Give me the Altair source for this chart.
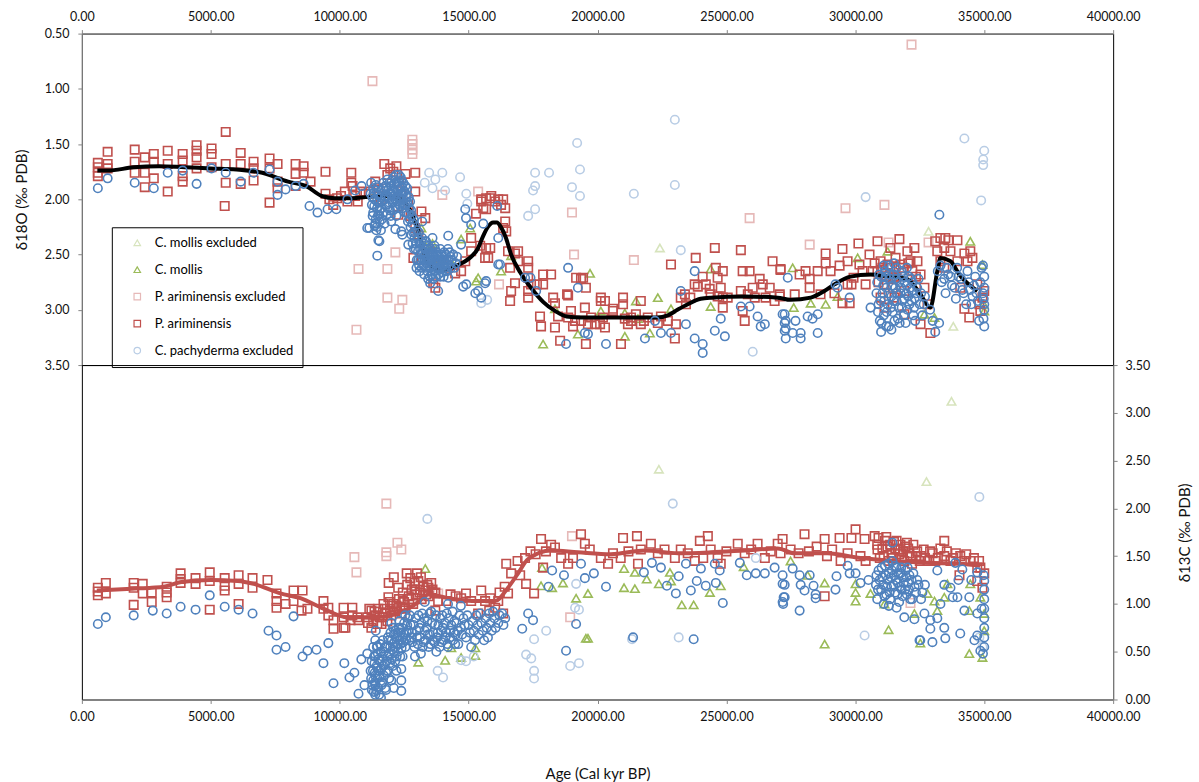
import altair as alt
import pandas as pd

SERIES = ["C. mollis excluded", "C. mollis", "P. ariminensis excluded",
          "P. ariminensis", "C. pachyderma excluded", "C. pachyderma"]
COLORS = ["#d7e4bd", "#9bbb59", "#e6b9b8", "#c0504d", "#b9cde5", "#4f81bd"]
SHAPES = ["triangle-up", "triangle-up", "square", "square", "circle", "circle"]

AGE_TICKS = [0, 5000, 10000, 15000, 20000, 25000, 30000, 35000, 40000]
D18O_TICKS = [0.5, 1.0, 1.5, 2.0, 2.5, 3.0, 3.5]
D13C_TICKS = [0.0, 0.5, 1.0, 1.5, 2.0, 2.5, 3.0, 3.5]

# ---------------- delta 18O (age, value) ----------------
d18o_mollis_excl = [(22420, 2.44), (32840, 2.29), (33800, 3.15)]

d18o_mollis = [
    (13170, 2.26), (13050, 2.33), (13320, 2.42), (13600, 2.40), (13900, 2.55), (14400, 2.60),
    (14710, 2.36), (15060, 2.26), (15290, 2.74), (15370, 2.71), (16260, 2.65), (16650, 2.51),
    (17890, 3.31), (18350, 2.99), (19240, 3.22), (19710, 2.67), (20130, 3.01), (21060, 3.24),
    (21060, 3.03), (21490, 2.92), (21570, 3.08), (22030, 3.21), (22340, 2.89), (22850, 2.99),
    (24390, 2.63), (24390, 2.97), (27570, 2.62), (27610, 2.98), (28270, 2.94), (28850, 2.95),
    (29310, 2.88), (30090, 2.53), (31250, 2.47), (32680, 3.04), (33070, 3.07), (34460, 2.38),
    (34930, 2.59), (35000, 3.01), (34980, 2.95)]

d18o_arim_excl = [
    (11270, 0.93), (32180, 0.60), (29620, 2.08), (31130, 2.05), (28230, 2.41), (31290, 2.39),
    (32840, 2.39), (12820, 1.46), (12820, 1.50), (12820, 1.55), (12820, 1.59), (12160, 2.48),
    (10730, 2.63), (11850, 2.63), (11850, 2.89), (12430, 2.91), (12310, 2.99), (10650, 3.18),
    (13980, 1.96), (15370, 1.93), (19010, 2.12), (19090, 2.50), (21410, 2.55), (16180, 2.77),
    (25900, 2.17)]

d18o_arim = [
    (620, 1.67), (620, 1.71), (620, 1.76), (620, 1.79), (1000, 1.57), (1000, 1.68), (1000, 1.72),
    (2050, 1.55), (2050, 1.66), (2050, 1.76), (2440, 1.62), (2440, 1.76), (2440, 1.89),
    (2790, 1.59), (2790, 1.66), (2790, 1.81), (3330, 1.56), (3330, 1.68), (3330, 1.93),
    (3910, 1.59), (3910, 1.65), (3910, 1.79), (3910, 1.84), (4450, 1.51), (4450, 1.56),
    (4450, 1.62), (4450, 1.72), (5030, 1.54), (5030, 1.59), (5030, 1.71), (5580, 1.39),
    (5580, 1.68), (5580, 1.85), (5540, 2.06), (6160, 1.58), (6160, 1.68), (6160, 1.86),
    (6660, 1.66), (6660, 1.72), (6660, 1.83), (7280, 1.63), (7280, 1.72), (7280, 2.03),
    (7590, 1.68), (7590, 1.84), (7590, 1.90), (8290, 1.68), (8290, 1.77), (8290, 1.88),
    (8600, 1.70), (8600, 1.76), (8870, 1.84), (9450, 1.75), (9450, 1.95), (9600, 2.00),
    (9750, 2.05), (9900, 1.99), (10050, 1.97), (10200, 1.93), (10300, 2.02), (10450, 1.76),
    (10450, 1.85), (10500, 1.88), (10600, 1.97), (10700, 2.02), (10800, 1.93), (11000, 1.95),
    (11190, 1.93), (11380, 1.84), (11500, 1.90), (11600, 2.00), (11730, 1.68), (11850, 1.78),
    (11960, 1.72), (12080, 1.75), (12200, 1.70), (12300, 1.85), (12400, 1.95), (12550, 1.77),
    (12650, 2.05), (12750, 2.15), (12930, 1.76), (12930, 1.93), (12930, 2.26), (12860, 2.53),
    (13050, 2.32), (13170, 2.11), (13320, 2.17), (12270, 2.14), (13450, 2.45), (13630, 2.76),
    (13710, 2.80), (13800, 2.60), (14000, 2.55), (14200, 2.62), (14480, 2.67), (14710, 2.65),
    (14870, 2.56), (15100, 2.35), (15450, 2.42), (15490, 2.02), (15490, 2.00), (15570, 2.08),
    (15680, 1.99), (15680, 2.09), (15840, 1.99), (15880, 1.97), (16030, 2.02), (16150, 2.00),
    (16260, 2.05), (16340, 2.00), (16420, 2.08), (16420, 2.20), (16340, 2.26), (15290, 2.13),
    (15840, 2.44), (15640, 2.53), (15760, 2.53), (15680, 2.44), (15100, 2.47), (16460, 2.29),
    (16530, 2.47), (16800, 2.49), (16920, 2.47), (16610, 2.62), (16920, 2.56), (17310, 2.56),
    (17310, 2.62), (17310, 2.71), (17420, 2.77), (16800, 2.76), (16650, 2.83), (16610, 2.92),
    (17310, 2.83), (17310, 2.89), (17890, 2.68), (18200, 2.68), (17890, 2.77), (17650, 2.77),
    (18280, 2.89), (18350, 2.94), (18820, 2.86), (19170, 2.71), (19440, 2.71), (18470, 3.06),
    (17810, 3.15), (17770, 3.06), (18350, 3.16), (18550, 3.28), (18970, 3.01), (19130, 3.10),
    (18860, 2.87), (18860, 3.07), (19050, 3.15), (19360, 3.10), (19510, 2.98), (19360, 2.72),
    (19550, 2.80), (19630, 3.13), (19550, 3.31), (19750, 3.07), (19900, 3.13), (20100, 3.13),
    (20130, 2.89), (20130, 2.92), (20210, 3.07), (20290, 3.16), (20290, 2.92), (20600, 2.99),
    (20600, 3.01), (20910, 3.31), (20990, 2.89), (20990, 2.95), (21060, 3.08), (21180, 3.13),
    (21300, 3.07), (21300, 3.10), (21490, 3.04), (21680, 2.92), (21680, 3.13), (21800, 3.10),
    (21950, 3.07), (22340, 3.12), (22460, 3.06), (22730, 3.10), (22850, 2.59), (23000, 3.26),
    (23040, 3.13), (23230, 2.89), (23390, 2.86), (23430, 2.95), (23600, 2.89), (23770, 2.77),
    (23890, 2.79), (23810, 2.53), (24080, 2.70), (24200, 2.77), (24390, 2.86), (24350, 2.81),
    (24550, 2.44), (24590, 2.62), (24660, 2.71), (24860, 2.65), (24780, 2.80), (24860, 2.89),
    (24860, 2.98), (24660, 2.88), (25050, 2.89), (25560, 2.46), (25630, 2.65), (25900, 2.65),
    (25560, 2.83), (25830, 2.86), (26020, 2.80), (26100, 2.89), (26290, 2.72), (26410, 2.77),
    (26520, 2.89), (26680, 2.80), (26870, 2.92), (26790, 2.56), (27100, 2.63), (27070, 2.86),
    (25630, 3.01), (25710, 3.10), (27100, 2.64), (27070, 2.88), (27650, 2.86), (27840, 2.68),
    (28070, 2.65), (28230, 2.72), (28230, 2.80), (28540, 2.65), (28650, 2.86), (28850, 2.49),
    (28850, 2.58), (29040, 2.65), (29190, 2.85), (29390, 2.60), (29500, 2.45), (29500, 2.94),
    (29700, 2.56), (29780, 2.94), (29700, 2.77), (29850, 2.77), (29930, 2.71), (30160, 2.59),
    (30120, 2.40), (30280, 2.65), (30400, 2.77), (30550, 2.50), (30670, 2.65), (30860, 2.38),
    (30860, 2.65), (30980, 2.56), (30980, 2.89), (31130, 2.77), (31250, 2.59), (31130, 2.98),
    (31360, 2.44), (31520, 2.71), (31520, 2.89), (31560, 2.53), (31710, 2.36), (31750, 2.59),
    (31900, 2.83), (31900, 3.04), (32020, 2.47), (32140, 2.56), (32210, 2.65), (32290, 2.44),
    (32410, 2.56), (32530, 2.68), (32530, 3.13), (32910, 3.21), (33100, 2.38), (33300, 2.35),
    (33490, 2.35), (33610, 2.37), (33450, 2.44), (33690, 2.47), (33180, 2.47), (33300, 2.56),
    (33960, 2.37), (33960, 2.56), (34230, 2.49), (34460, 2.47), (34350, 2.56), (34540, 2.53),
    (33450, 2.62), (34070, 2.80), (34230, 2.99), (34420, 3.07), (34730, 2.77), (34810, 2.95),
    (34930, 2.89), (34850, 3.01), (35000, 2.83), (32680, 2.80), (32800, 2.95),
    (30900, 2.75), (31050, 2.62), (31200, 2.70), (31350, 2.62), (31450, 2.80), (31600, 2.70),
    (31850, 2.62), (32050, 2.58), (32350, 2.70), (30750, 2.58)]

d18o_pachy_excl = [
    (23000, 1.28), (19210, 1.49), (19320, 1.73), (19010, 1.89), (19320, 1.97), (23000, 1.87),
    (21410, 1.95), (17580, 1.76), (18120, 1.76), (17580, 1.88), (17500, 1.92), (17580, 2.09),
    (17310, 2.15), (23230, 2.46), (26020, 3.38), (15490, 2.94), (15720, 2.91), (13470, 1.76),
    (13980, 1.76), (13710, 1.82), (14670, 1.80), (14090, 1.92), (14910, 1.95), (13600, 1.90),
    (14950, 2.04), (34230, 1.45), (35000, 1.56), (34960, 1.64), (34960, 1.69), (34880, 2.01),
    (30400, 1.98), (13300, 1.85)]

d18o_pachy = [
    (620, 1.90), (1000, 1.81), (2050, 1.85), (2790, 1.90), (3330, 1.76), (3910, 1.74),
    (4450, 1.86), (5030, 1.72), (5580, 1.76), (6160, 1.84), (6660, 1.76), (7280, 1.73),
    (7590, 1.84), (7590, 1.96), (7900, 1.91), (8290, 1.88), (8600, 1.86), (8830, 2.06),
    (9140, 2.12), (9530, 2.09), (9870, 2.09), (10300, 2.00), (10600, 1.92), (10850, 1.88),
    (11070, 2.26), (11460, 2.51), (11540, 2.38), (12160, 2.27), (12430, 2.32), (11150, 2.26),
    (11500, 2.37),
    (14210, 2.33), (14870, 2.09), (14900, 2.17), (15100, 2.23), (15570, 2.22), (16110, 2.06),
    (16150, 2.35), (16220, 2.59), (15640, 2.76), (15260, 2.85), (14790, 2.79), (14710, 2.41),
    (14910, 2.77), (15370, 2.83), (15490, 2.89), (15680, 2.74), (16150, 2.59), (17190, 2.71),
    (17400, 2.71), (17620, 2.83), (18860, 2.62), (19240, 2.80), (19630, 3.22), (18780, 3.31),
    (20330, 3.31), (19510, 3.21), (21840, 3.26), (22230, 3.10), (22460, 3.21), (22850, 3.21),
    (23230, 2.83), (23430, 3.13), (23770, 2.65), (23770, 3.26), (24080, 3.31), (24080, 3.39),
    (24550, 3.19), (24780, 3.08), (24940, 3.24), (25560, 2.97), (25900, 2.97), (26210, 3.06),
    (26330, 3.15), (26490, 3.13), (27180, 3.04), (27260, 3.12), (27300, 3.17),
    (27260, 3.04), (27300, 3.10), (27260, 3.19), (27300, 3.26), (27570, 3.21), (27680, 3.10),
    (27880, 3.21), (27880, 3.26), (28150, 3.06), (28340, 3.08), (28540, 3.04), (28540, 3.21),
    (27380, 2.71), (29310, 2.80), (29780, 2.89), (30590, 2.98), (29230, 2.77)]

# dense run of C. pachyderma around the deglaciation (11-14.5 ka)
d18o_pachy_deglacial = [
    (11200, 1.95), (11250, 2.05), (11300, 1.90), (11300, 2.12), (11350, 2.00), (11400, 1.87),
    (11400, 2.18), (11450, 2.08), (11450, 2.25), (11500, 1.96), (11550, 2.10), (11550, 2.20),
    (11600, 1.92), (11650, 2.02), (11700, 1.85), (11700, 2.12), (11750, 1.97), (11800, 1.90),
    (11800, 2.05), (11850, 1.82), (11900, 1.98), (11950, 2.10), (12000, 1.88), (12000, 1.95),
    (12050, 2.03), (12100, 1.80), (12100, 1.92), (12150, 2.00), (12200, 1.85), (12250, 1.95),
    (12250, 2.08), (12300, 1.78), (12350, 1.90), (12400, 2.00), (12400, 1.83), (12450, 1.94),
    (12500, 2.05), (12550, 1.88), (12600, 1.98), (12600, 2.12), (12650, 2.20), (12700, 2.08),
    (12750, 2.25), (12800, 2.15), (12850, 2.30), (11420, 2.28), (11480, 2.15), (11380, 2.22),
    (11600, 2.28), (12000, 2.20), (12200, 2.15),
    (11220, 1.85), (11260, 1.98), (11280, 2.15), (11320, 1.94), (11340, 2.06), (11360, 2.24),
    (11420, 1.92), (11440, 2.02), (11470, 1.89), (11520, 2.03), (11530, 2.14), (11580, 1.98),
    (11620, 2.08), (11640, 2.18), (11680, 1.90), (11720, 2.00), (11740, 2.22), (11770, 1.88),
    (11820, 1.97), (11830, 2.14), (11870, 1.92), (11880, 2.07), (11920, 1.85), (11930, 2.03),
    (11970, 1.95), (11980, 2.15), (12020, 1.83), (12030, 2.00), (12060, 1.92), (12070, 2.10),
    (12120, 1.86), (12130, 1.97), (12160, 2.07), (12180, 1.78), (12220, 1.92), (12230, 2.02),
    (12270, 1.84), (12280, 1.99), (12320, 1.88), (12330, 2.05), (12370, 1.80), (12380, 1.96),
    (12420, 1.89), (12430, 2.08), (12470, 1.85), (12480, 2.00), (12520, 1.93), (12530, 2.12),
    (12570, 1.96), (12580, 2.05), (12620, 1.90), (12630, 2.03), (12670, 2.13), (12680, 1.98),
    (12720, 2.18), (12730, 2.02), (12770, 2.10), (12780, 2.32), (12820, 2.22), (12830, 2.40),
    (12870, 2.18), (12880, 2.45),
    (12900, 2.35), (12950, 2.45), (13000, 2.28), (13050, 2.55), (13100, 2.40), (13150, 2.50),
    (13200, 2.35), (13250, 2.60), (13300, 2.45), (13300, 2.55), (13350, 2.38), (13400, 2.50),
    (13400, 2.65), (13450, 2.42), (13500, 2.55), (13500, 2.70), (13550, 2.48), (13600, 2.60),
    (13650, 2.52), (13700, 2.45), (13700, 2.65), (13750, 2.58), (13800, 2.50), (13850, 2.62),
    (13900, 2.45), (13900, 2.70), (13950, 2.55), (14000, 2.60), (14050, 2.48), (14100, 2.65),
    (14150, 2.55), (14200, 2.45), (14250, 2.60), (14300, 2.52), (13200, 2.20), (13100, 2.65),
    (12990, 2.55), (14400, 2.50), (14500, 2.58), (13600, 2.35), (13820, 2.83), (14210, 2.71),
    (13510, 2.76), (12660, 2.41), (12390, 2.29), (13320, 2.38),
    (12920, 2.30), (12960, 2.40), (12980, 2.62), (13020, 2.35), (13040, 2.47), (13070, 2.30),
    (13080, 2.60), (13120, 2.45), (13130, 2.55), (13170, 2.38), (13180, 2.62), (13220, 2.48),
    (13230, 2.55), (13270, 2.40), (13280, 2.68), (13320, 2.50), (13340, 2.62), (13370, 2.45),
    (13380, 2.58), (13420, 2.55), (13430, 2.72), (13470, 2.60), (13480, 2.48), (13520, 2.62),
    (13530, 2.45), (13570, 2.55), (13580, 2.68), (13620, 2.50), (13630, 2.72), (13670, 2.58),
    (13680, 2.42), (13720, 2.55), (13730, 2.70), (13770, 2.48), (13780, 2.62), (13820, 2.55),
    (13830, 2.68), (13870, 2.52), (13880, 2.58), (13920, 2.62), (13930, 2.50), (13970, 2.66),
    (13980, 2.52), (14020, 2.58), (14030, 2.70), (14070, 2.55), (14080, 2.62), (14120, 2.50),
    (14130, 2.58), (14170, 2.65), (14220, 2.55), (14270, 2.48), (14320, 2.62), (14350, 2.55),
    (14450, 2.62), (14550, 2.52)]

# dense run of C. pachyderma in the oldest part of the core (30.8-35 ka)
d18o_pachy_glacial = [
    (30850, 2.75), (30900, 2.95), (30950, 3.10), (31000, 2.70), (31050, 2.85), (31100, 3.05),
    (31150, 2.65), (31200, 2.80), (31250, 2.95), (31300, 3.15), (31350, 2.72), (31400, 2.88),
    (31450, 3.02), (31500, 2.68), (31550, 2.80), (31600, 2.92), (31650, 3.08), (31700, 2.75),
    (31750, 2.85), (31800, 2.98), (31850, 2.70), (31900, 2.90), (31950, 3.12), (32000, 2.78),
    (32050, 2.88), (32100, 2.95), (32150, 2.72), (32200, 2.83), (32250, 3.05), (32300, 2.90),
    (32400, 2.80), (32500, 2.95), (32600, 3.05), (32700, 2.88), (31200, 3.15), (31400, 3.18),
    (31000, 3.20), (31600, 2.62), (31300, 2.60), (32900, 3.00), (33000, 3.10),
    (30820, 2.85), (30880, 3.02), (30920, 2.68), (30980, 2.92), (31020, 3.12), (31080, 2.78),
    (31120, 2.92), (31180, 2.70), (31220, 3.02), (31280, 2.85), (31320, 2.68), (31380, 2.98),
    (31420, 2.78), (31480, 2.92), (31520, 3.10), (31580, 2.72), (31620, 2.85), (31680, 2.98),
    (31720, 3.12), (31780, 2.80), (31820, 2.92), (31880, 3.05), (31920, 2.75), (31980, 2.85),
    (32020, 3.00), (32080, 2.70), (32120, 2.80), (32180, 2.92), (32220, 2.75), (32280, 2.98),
    (32320, 3.10), (32380, 2.85), (32450, 2.72), (32550, 2.85), (32650, 2.95), (31100, 2.60),
    (31500, 2.58), (31800, 2.65), (32000, 2.62),
    (33260, 2.14), (33200, 2.65), (33350, 2.75), (33500, 2.85), (33600, 2.68), (33750, 2.78),
    (33900, 2.90), (34000, 2.70), (34150, 2.82), (34300, 2.95), (34400, 2.75), (34550, 2.88),
    (34650, 2.70), (34750, 2.92), (34900, 2.62), (35000, 2.70), (35000, 2.80), (34980, 2.90),
    (35000, 3.00), (34970, 3.08), (35000, 3.15), (34950, 2.60), (33100, 3.20), (33250, 3.12),
    (33300, 2.60), (33450, 2.72), (33550, 2.62), (33700, 2.70), (33850, 2.80), (33950, 2.62),
    (34100, 2.72), (34200, 2.85), (34350, 2.65), (34450, 2.82), (34600, 2.78), (34700, 2.85),
    (34850, 2.75), (34950, 2.85), (35000, 2.95), (34800, 3.10), (34500, 2.95)]

d18o_trend = [
    (600, 1.74), (1000, 1.74), (2000, 1.71), (3000, 1.70), (4000, 1.71), (5000, 1.72),
    (6000, 1.73), (7000, 1.76), (8000, 1.84), (8700, 1.88), (9300, 1.97), (9800, 1.99),
    (10500, 1.99), (11000, 1.98), (11500, 1.97), (12000, 1.97), (12500, 2.02), (13000, 2.25),
    (13440, 2.59), (13900, 2.64), (14330, 2.62), (14800, 2.57), (15100, 2.52), (15350, 2.45),
    (15550, 2.34), (15750, 2.25), (15950, 2.21), (16100, 2.21), (16250, 2.25), (16450, 2.35),
    (16650, 2.50), (17000, 2.66), (17420, 2.80), (17900, 2.93), (18350, 3.01), (18800, 3.06),
    (19360, 3.07), (19900, 3.07), (21450, 3.07), (22300, 3.07), (22730, 3.05), (23100, 3.00),
    (23500, 2.95), (24000, 2.90), (24390, 2.89), (25710, 2.88), (26990, 2.89), (27490, 2.91),
    (28270, 2.89), (28800, 2.83), (29190, 2.77), (29810, 2.70), (30590, 2.68), (31300, 2.70),
    (32000, 2.72), (32500, 2.85), (32910, 2.98), (33180, 2.65), (33300, 2.53), (33690, 2.56),
    (34030, 2.68), (34730, 2.83)]

# ---------------- delta 13C (age, value) ----------------
d13c_mollis_excl = [(22380, 2.41), (33730, 3.12), (32760, 2.28)]

d13c_mollis = [
    (27490, 1.45), (28150, 1.30), (28810, 1.22), (28810, 0.58), (30010, 1.21), (30010, 1.12),
    (30010, 1.03), (30590, 1.11), (31130, 1.00), (31290, 0.73), (32290, 0.90), (32520, 0.59),
    (32800, 1.11), (33070, 1.03), (33180, 0.93), (33450, 1.07), (33570, 1.21), (34420, 0.93),
    (34420, 0.48), (34930, 0.44), (35000, 0.90), (35000, 0.72), (34850, 1.07), (34460, 1.21),
    (17810, 1.19), (18240, 1.17), (18660, 1.22), (17850, 1.38), (19630, 1.11), (19170, 1.06),
    (19630, 0.64), (21030, 1.17), (21450, 1.16), (21030, 1.37), (21450, 1.33), (21910, 1.26),
    (22380, 1.21), (22810, 1.33), (22850, 1.24), (23270, 0.99), (23730, 0.99), (24360, 1.12),
    (24780, 1.19), (25670, 1.39), (13320, 1.37), (14090, 0.41), (14710, 0.44), (15260, 0.46),
    (14330, 0.54), (15260, 0.54), (13050, 0.39), (19550, 0.64)]

d13c_arim_excl = [
    (11810, 2.05), (10570, 1.49), (10650, 1.33), (12240, 1.64), (12390, 1.57), (11810, 1.54),
    (11810, 1.50), (19010, 1.71), (18940, 0.86), (13820, 1.11), (32140, 1.01)]

d13c_arim = [
    (620, 1.17), (620, 1.13), (620, 1.09), (930, 1.22), (930, 1.11), (2010, 1.22), (2010, 1.17),
    (2010, 0.99), (2360, 1.21), (2360, 1.11), (2710, 1.12), (2710, 1.02), (3290, 1.18),
    (3290, 1.12), (3290, 1.07), (3830, 1.32), (3830, 1.26), (3830, 1.22), (4410, 1.27),
    (4410, 1.21), (4960, 1.33), (4960, 1.24), (4960, 0.94), (5540, 1.27), (5540, 1.19),
    (5540, 1.14), (6080, 1.30), (6080, 1.21), (6080, 1.00), (6620, 1.27), (6620, 1.17),
    (7200, 1.25), (7550, 1.11), (7550, 1.03), (7550, 0.96), (7900, 1.00), (8210, 1.14),
    (8210, 1.03), (8560, 1.14), (8520, 0.93), (8750, 0.95), (9370, 1.03), (9370, 0.95),
    (9560, 0.96), (9560, 0.88), (9760, 0.83), (9760, 0.74), (10150, 0.96), (10150, 0.86),
    (10150, 0.75), (10490, 0.96), (10490, 0.88), (10220, 0.75), (10690, 0.86), (10420, 0.83),
    (10730, 0.83),
    (11070, 0.86), (11150, 0.95), (11230, 0.93), (11230, 0.75), (11300, 0.82), (11380, 0.88),
    (11460, 0.79), (11500, 0.95), (11620, 0.79), (11650, 0.86), (11700, 1.00), (11770, 0.90),
    (11850, 0.82), (11890, 1.07), (11950, 0.95), (12000, 0.88), (12080, 1.00), (12150, 0.92),
    (12270, 1.17), (12300, 1.05), (12350, 0.97), (12400, 0.90), (12450, 1.12), (12500, 1.02),
    (12550, 0.95), (12620, 1.20), (12680, 1.08), (12740, 1.27), (12800, 1.15), (12850, 1.00),
    (12900, 1.22), (12950, 1.10), (13050, 1.24), (13000, 1.32), (13100, 1.12), (13180, 1.05),
    (13250, 1.18), (13320, 1.14), (13400, 1.20), (13450, 1.08), (13600, 1.15), (13710, 0.93),
    (13710, 1.12), (12100, 1.28), (11900, 1.22), (12600, 1.32),
    (11100, 0.80), (11350, 0.92), (11550, 0.86), (11750, 0.95), (11950, 1.02), (12200, 0.98),
    (12450, 1.02), (12700, 1.05), (12900, 1.15), (13150, 1.28), (13350, 1.10), (13550, 1.22),
    (13440, 1.17), (13700, 1.11), (13820, 1.03), (14130, 1.03), (14300, 1.10), (14500, 1.08),
    (14710, 1.06), (14900, 1.11), (15100, 1.03), (15370, 0.90), (15490, 1.14), (15640, 1.03),
    (15840, 1.06), (16030, 0.96), (16150, 1.03), (16340, 0.90), (15800, 0.93), (16200, 1.12),
    (16400, 1.18), (16530, 1.11), (16460, 1.42), (16650, 1.32), (17230, 1.21), (17540, 1.11),
    (17890, 1.38), (17190, 1.48), (16900, 1.45), (17000, 1.30), (17400, 1.55), (17600, 1.52),
    (17810, 1.68), (18000, 1.55), (18200, 1.62), (18350, 1.59), (18590, 1.48), (18860, 1.42),
    (19050, 1.48), (19360, 1.73), (19510, 1.63), (19700, 1.57), (20130, 1.48), (20410, 1.42),
    (20600, 1.53), (20990, 1.69), (20900, 1.48), (21200, 1.55), (21530, 1.71), (21570, 1.42),
    (21680, 1.57), (22070, 1.63), (22340, 1.53), (22600, 1.57), (23000, 1.48), (23230, 1.57),
    (23500, 1.53), (23770, 1.45), (23970, 1.66), (24100, 1.48), (24280, 1.71), (24390, 1.57),
    (24660, 1.48), (24780, 1.42), (25000, 1.55), (25440, 1.63), (25710, 1.53), (25960, 1.57),
    (26210, 1.63), (26490, 1.48), (26720, 1.55), (26990, 1.63), (27100, 1.53),
    (27180, 1.68), (27490, 1.57), (27800, 1.53), (28030, 1.73), (28200, 1.55), (28500, 1.60),
    (28810, 1.68), (28810, 1.08), (28900, 1.50), (29100, 1.57), (29390, 1.69), (29430, 1.45),
    (29700, 1.53), (29850, 1.69), (30010, 1.78), (30200, 1.50), (30360, 1.68), (30400, 1.45),
    (30750, 1.71), (30900, 1.69), (30860, 1.57), (31100, 1.50), (31250, 1.60), (31400, 1.53),
    (31500, 1.65), (31650, 1.57), (31800, 1.48), (31950, 1.60), (32100, 1.53), (32200, 1.42),
    (32350, 1.50), (32500, 1.45), (32650, 1.57), (32800, 1.45), (33000, 1.53), (33200, 1.48),
    (33450, 1.66), (33450, 1.50), (33690, 1.45), (33900, 1.53), (34040, 1.30), (34070, 1.50),
    (34230, 1.45), (34460, 1.45), (34730, 1.38), (34730, 1.24), (34850, 1.38), (34930, 1.17),
    (35000, 1.32), (31200, 1.70), (31600, 1.66), (32000, 1.64),
    (30850, 1.62), (30950, 1.48), (31050, 1.58), (31150, 1.66), (31300, 1.45), (31350, 1.62),
    (31450, 1.48), (31550, 1.58), (31700, 1.52), (31750, 1.62), (31850, 1.55), (31900, 1.45),
    (32050, 1.58), (32150, 1.50), (32250, 1.62), (32400, 1.55), (32550, 1.50), (32700, 1.48),
    (32900, 1.55), (33100, 1.45), (33300, 1.58), (33550, 1.55), (33800, 1.48), (34300, 1.52),
    (34600, 1.48), (34800, 1.45)]

d13c_pachy_excl = [
    (13400, 1.89), (22920, 2.05), (34810, 2.12), (30360, 0.67), (19280, 0.94), (19130, 0.96),
    (18010, 0.72), (17540, 0.63), (17230, 0.47), (17430, 0.43), (17540, 0.30), (17540, 0.22),
    (18940, 0.35), (19280, 0.38), (21340, 0.63), (23150, 0.65), (19170, 1.21), (26140, 1.48),
    (14010, 0.23), (14710, 0.41), (13800, 0.30), (34810, 0.65), (34930, 0.55), (14900, 0.40),
    (15200, 0.45)]

d13c_pachy = [
    (620, 0.79), (930, 0.86), (2010, 0.88), (2750, 0.93), (3290, 0.90), (3830, 0.97),
    (4410, 0.94), (4960, 1.09), (5540, 0.97), (6080, 0.94), (6620, 0.90), (7240, 0.72),
    (7550, 0.67), (7550, 0.52), (7900, 0.55), (8210, 0.87), (8560, 0.45), (8750, 0.51),
    (9100, 0.52), (9370, 0.38), (9560, 0.59), (9760, 0.17), (10180, 0.38), (10380, 0.23),
    (10570, 0.28), (10730, 0.06), (10840, 0.42), (11070, 0.48), (10960, 0.15), (11460, 0.56),
    (11300, 0.55),
    (17310, 0.90), (17500, 0.83), (17080, 0.74), (18780, 0.51), (19170, 0.79), (20330, 1.18),
    (19510, 1.27), (19860, 1.32), (19360, 1.42), (18240, 1.35), (18700, 1.30), (21800, 1.33),
    (22110, 1.43), (22460, 1.38), (22690, 1.19), (23040, 1.11), (23150, 1.29), (23430, 1.42),
    (23730, 0.63), (23620, 1.14), (23850, 1.24), (24010, 1.37), (24200, 1.19), (24550, 1.42),
    (24590, 1.22), (24860, 1.01), (24740, 1.35), (25520, 1.43), (25790, 1.30), (26140, 1.32),
    (26490, 1.32), (26870, 1.38), (27180, 1.21), (27220, 1.07), (27200, 1.00), (21380, 0.65),
    (18100, 1.18),
    (27180, 1.30), (27260, 1.20), (27260, 1.07), (27180, 1.02), (27570, 1.37), (27840, 1.30),
    (27880, 1.20), (28030, 1.14), (28230, 1.30), (28380, 1.19), (28460, 1.10), (28460, 1.06),
    (27840, 0.93), (29230, 1.15), (29270, 1.29), (29700, 1.40), (29780, 1.32), (30010, 1.32),
    (30200, 1.22), (30510, 1.25)]

d13c_pachy_deglacial = [
    (11200, 0.30), (11250, 0.10), (11300, 0.20), (11350, 0.38), (11380, 0.05), (11380, 0.15),
    (11380, 0.25), (11380, 0.45), (11380, 0.62), (11400, 0.72), (11450, 0.33), (11500, 0.12),
    (11500, 0.42), (11550, 0.25), (11600, 0.50), (11650, 0.18), (11700, 0.35), (11750, 0.55),
    (11800, 0.28), (11850, 0.45), (11900, 0.62), (11950, 0.38), (12000, 0.20), (12050, 0.52),
    (12100, 0.68), (12150, 0.40), (12200, 0.30), (12250, 0.58), (12300, 0.75), (12350, 0.45),
    (12390, 0.09), (12390, 0.20), (12390, 0.32), (12400, 0.54), (12450, 0.65), (12500, 0.80),
    (12550, 0.55), (12600, 0.70), (12650, 0.85), (12700, 0.62), (12750, 0.78), (11600, 0.02),
    (11800, 0.10), (12100, 0.12), (12000, 0.80),
    (11220, 0.22), (11240, 0.40), (11270, 0.15), (11290, 0.30), (11320, 0.08), (11330, 0.45),
    (11360, 0.28), (11370, 0.18), (11420, 0.10), (11430, 0.35), (11440, 0.55), (11470, 0.22),
    (11480, 0.48), (11520, 0.30), (11530, 0.05), (11560, 0.40), (11570, 0.58), (11610, 0.32),
    (11620, 0.15), (11660, 0.45), (11670, 0.62), (11710, 0.25), (11720, 0.50), (11760, 0.38),
    (11770, 0.12), (11810, 0.55), (11820, 0.40), (11860, 0.30), (11870, 0.65), (11910, 0.48),
    (11920, 0.22), (11960, 0.55), (11970, 0.70), (12010, 0.42), (12020, 0.62), (12060, 0.35),
    (12070, 0.75), (12110, 0.50), (12120, 0.60), (12160, 0.72), (12170, 0.55), (12210, 0.45),
    (12220, 0.65), (12260, 0.70), (12270, 0.50), (12310, 0.62), (12320, 0.82), (12360, 0.58),
    (12370, 0.70), (12420, 0.75), (12440, 0.45), (12470, 0.60), (12520, 0.68), (12540, 0.88),
    (12580, 0.62), (12620, 0.78), (12680, 0.72), (12720, 0.88), (12780, 0.65),
    (12800, 0.70), (12900, 0.55), (12950, 0.85), (13000, 0.65), (13100, 0.75), (13150, 0.48),
    (13200, 0.90), (13250, 0.60), (13300, 0.72), (13400, 0.82), (13450, 0.55), (13500, 0.68),
    (13550, 0.92), (13600, 0.62), (13700, 0.78), (13750, 0.50), (13800, 0.70), (13900, 0.85),
    (13950, 0.60), (14000, 0.75), (14100, 0.65), (14150, 0.90), (14200, 0.55), (14300, 0.72),
    (14400, 0.62), (14450, 0.82), (14500, 0.68), (14600, 0.58), (14700, 0.75), (14800, 0.85),
    (14900, 0.65), (15000, 0.78), (15100, 0.55), (15200, 0.72), (15300, 0.88), (15400, 0.68),
    (15500, 0.80), (15600, 0.62), (15700, 0.75), (15800, 0.90), (15900, 0.72), (16000, 0.85),
    (16150, 0.80), (16300, 0.90), (16420, 0.85), (13300, 1.02), (14200, 1.00), (14700, 0.98),
    (12820, 0.60), (12870, 0.78), (12920, 0.45), (12980, 0.72), (13030, 0.58), (13060, 0.88),
    (13120, 0.65), (13170, 0.80), (13220, 0.55), (13280, 0.85), (13320, 0.62), (13370, 0.75),
    (13420, 0.68), (13480, 0.90), (13520, 0.58), (13580, 0.80), (13630, 0.70), (13680, 0.60),
    (13730, 0.88), (13780, 0.65), (13830, 0.78), (13880, 0.55), (13930, 0.72), (13980, 0.88),
    (14030, 0.62), (14080, 0.80), (14130, 0.70), (14180, 0.58), (14230, 0.85), (14280, 0.65),
    (14330, 0.78), (14380, 0.92), (14430, 0.70), (14480, 0.58), (14530, 0.80), (14580, 0.72),
    (14650, 0.88), (14750, 0.68), (14850, 0.78), (14950, 0.88), (15050, 0.70), (15150, 0.82),
    (15250, 0.62), (15350, 0.78), (15450, 0.90), (15550, 0.72), (15650, 0.85), (15750, 0.65),
    (15850, 0.80), (15950, 0.92), (16050, 0.75), (16200, 0.88), (16350, 0.78)]

d13c_pachy_glacial = [
    (30800, 1.20), (30850, 1.05), (30900, 1.35), (31000, 1.15), (31050, 1.28), (31100, 1.00),
    (31150, 1.40), (31200, 1.10), (31250, 1.25), (31300, 1.32), (31350, 1.05), (31400, 1.18),
    (31440, 1.64), (31440, 1.45), (31500, 1.30), (31550, 1.12), (31600, 1.38), (31650, 1.22),
    (31700, 1.02), (31750, 1.32), (31800, 1.15), (31850, 1.28), (31900, 0.86), (31950, 1.35),
    (32000, 1.10), (32050, 1.22), (32100, 1.30), (32200, 1.05), (32290, 0.84), (32300, 1.18),
    (32400, 1.25), (32490, 0.62), (32520, 0.62), (32600, 1.12), (32680, 0.90), (32700, 1.20),
    (31300, 0.98), (31600, 0.96),
    (30820, 1.30), (30880, 1.15), (30940, 1.25), (31020, 1.38), (31080, 1.20), (31130, 1.08),
    (31180, 1.30), (31230, 1.18), (31280, 1.42), (31330, 1.12), (31380, 1.28), (31420, 1.35),
    (31480, 1.20), (31530, 1.40), (31580, 1.25), (31630, 1.10), (31680, 1.32), (31730, 1.18),
    (31780, 1.38), (31830, 1.08), (31880, 1.22), (31930, 1.15), (31980, 1.28), (32030, 1.38),
    (32080, 1.15), (32130, 1.05), (32180, 1.25), (32250, 1.32), (32350, 1.12), (32450, 1.20),
    (32550, 1.05),
    (32910, 0.83), (32910, 0.74), (32990, 0.60), (33180, 0.85), (33450, 0.75), (33490, 0.64),
    (34070, 0.69), (33960, 1.07), (34230, 0.93), (34620, 0.62), (34730, 0.67), (34850, 0.51),
    (34730, 0.90), (34420, 1.07), (33780, 1.07), (33690, 1.17), (33450, 1.20), (33180, 1.35),
    (33880, 1.43), (34150, 1.36), (34730, 1.33), (34500, 1.25), (34000, 1.25), (33300, 1.00),
    (35000, 1.24), (35000, 1.15), (35000, 1.05), (35000, 0.95), (35000, 0.85), (35000, 0.75),
    (35000, 0.65), (35000, 0.55), (34980, 1.30), (34950, 0.48), (34900, 0.95)]

d13c_trend = [
    (580, 1.14), (1940, 1.16), (2710, 1.17), (3180, 1.18), (3870, 1.23), (5000, 1.25),
    (6040, 1.24), (6660, 1.21), (7700, 1.11), (8480, 1.06), (9370, 0.95), (10300, 0.86),
    (11190, 0.86), (12350, 0.91), (13050, 1.02), (13440, 1.10), (14210, 1.06), (15370, 1.03),
    (16030, 1.03), (16530, 1.17), (16920, 1.32), (17310, 1.47), (18200, 1.56), (19240, 1.54),
    (20520, 1.52), (21840, 1.56), (23120, 1.53), (24390, 1.54), (25710, 1.56), (26990, 1.58),
    (27650, 1.53), (28920, 1.53), (30200, 1.48), (31520, 1.45), (32800, 1.43), (34070, 1.42),
    (34850, 1.40)]


def frame(groups):
    rows = []
    for name, pts in groups:
        for age, val in pts:
            rows.append({"age": age, "value": val, "series": name})
    return pd.DataFrame(rows)


def trend_frame(pts):
    return pd.DataFrame({"age": [a for a, _ in pts], "value": [v for _, v in pts]})


FONT = "Lato"
W = 1033

x_scale = alt.Scale(domain=[0, 40000], nice=False, zero=False)


def point_layer(df, x_enc, y_enc, legend):
    return alt.Chart(df).mark_point(
        filled=False, size=72, strokeWidth=1.6, opacity=1, clip=True
    ).encode(
        x=x_enc,
        y=y_enc,
        color=alt.Color("series:N", scale=alt.Scale(domain=SERIES, range=COLORS), legend=legend),
        shape=alt.Shape("series:N", scale=alt.Scale(domain=SERIES, range=SHAPES), legend=legend),
    )


legend_top = alt.Legend(
    orient="none", legendX=30, legendY=194, title=None, values=SERIES[:5],
    strokeColor="black", fillColor="white", padding=9, symbolOffset=10,
    labelOffset=11, rowPadding=13, symbolSize=42, symbolStrokeWidth=1.2,
    labelFont=FONT, labelFontSize=13, labelColor="#000000", symbolType="circle",
)

# ---------- upper panel: d18O ----------
y_top = alt.Y(
    "value:Q",
    scale=alt.Scale(domain=[0.5, 3.5], reverse=True, nice=False, zero=False),
    axis=alt.Axis(orient="left", values=D18O_TICKS, format=".2f", title="δ18O (‰ PDB)",
                  tickSize=4, labelPadding=9, titlePadding=15, labelFlush=False,
                  labelOverlap=False, grid=False),
)
x_top = alt.X("age:Q", scale=x_scale,
              axis=alt.Axis(orient="top", values=AGE_TICKS, format=".2f", title=None,
                            tickSize=4, labelPadding=6, labelFlush=False,
                            labelOverlap=False, grid=False))

top_lower = frame([(SERIES[0], d18o_mollis_excl), (SERIES[1], d18o_mollis),
                   (SERIES[2], d18o_arim_excl), (SERIES[3], d18o_arim)])
top_upper = frame([(SERIES[4], d18o_pachy_excl), (SERIES[5], d18o_pachy),
                   (SERIES[5], d18o_pachy_deglacial), (SERIES[5], d18o_pachy_glacial)])

top_pts_a = point_layer(top_lower, x_top, y_top, legend_top)
top_line = alt.Chart(trend_frame(d18o_trend)).mark_line(
    color="black", strokeWidth=4, clip=True, interpolate="monotone"
).encode(x=x_top, y=y_top)
top_pts_b = point_layer(top_upper, x_top, y_top, legend_top)

top = alt.layer(top_pts_a, top_line, top_pts_b).properties(width=W, height=332)

# ---------- lower panel: d13C ----------
y_bot = alt.Y(
    "value:Q",
    scale=alt.Scale(domain=[0, 3.5], nice=False, zero=False),
    axis=alt.Axis(orient="right", values=D13C_TICKS, format=".2f", title="δ13C (‰ PDB)",
                  titleAngle=270, tickSize=4, labelPadding=8, titlePadding=43,
                  labelFlush=False, labelOverlap=False, grid=False),
)
x_bot = alt.X("age:Q", scale=x_scale,
              axis=alt.Axis(orient="bottom", values=AGE_TICKS, format=".2f",
                            title="Age (Cal kyr BP)", titlePadding=44, tickSize=4,
                            labelPadding=7, labelFlush=False, labelOverlap=False, grid=False))

bot_lower = frame([(SERIES[0], d13c_mollis_excl), (SERIES[1], d13c_mollis),
                   (SERIES[2], d13c_arim_excl), (SERIES[3], d13c_arim)])
bot_upper = frame([(SERIES[4], d13c_pachy_excl), (SERIES[5], d13c_pachy),
                   (SERIES[5], d13c_pachy_deglacial), (SERIES[5], d13c_pachy_glacial)])

bot_pts_a = point_layer(bot_lower, x_bot, y_bot, None)
bot_line = alt.Chart(trend_frame(d13c_trend)).mark_line(
    color="#c0504d", strokeWidth=4, clip=True, interpolate="monotone"
).encode(x=x_bot, y=y_bot)
bot_pts_b = point_layer(bot_upper, x_bot, y_bot, None)

bottom = alt.layer(bot_pts_a, bot_line, bot_pts_b).properties(width=W, height=335)

chart = alt.vconcat(top, bottom, spacing=0, bounds="flush").resolve_scale(
    color="independent", shape="independent"
).properties(
    padding={"left": 13, "top": 9, "right": 5, "bottom": 5},
    background="white",
).configure_view(
    stroke="black", strokeWidth=1
).configure_axis(
    domainColor="#868686", tickColor="#868686", labelColor="#111111",
    titleColor="#111111", labelFont=FONT, titleFont=FONT, labelFontSize=12.5,
    titleFontSize=15, titleFontWeight="normal",
)

chart.save("out.html", embed_options={"renderer": "svg", "actions": False})
